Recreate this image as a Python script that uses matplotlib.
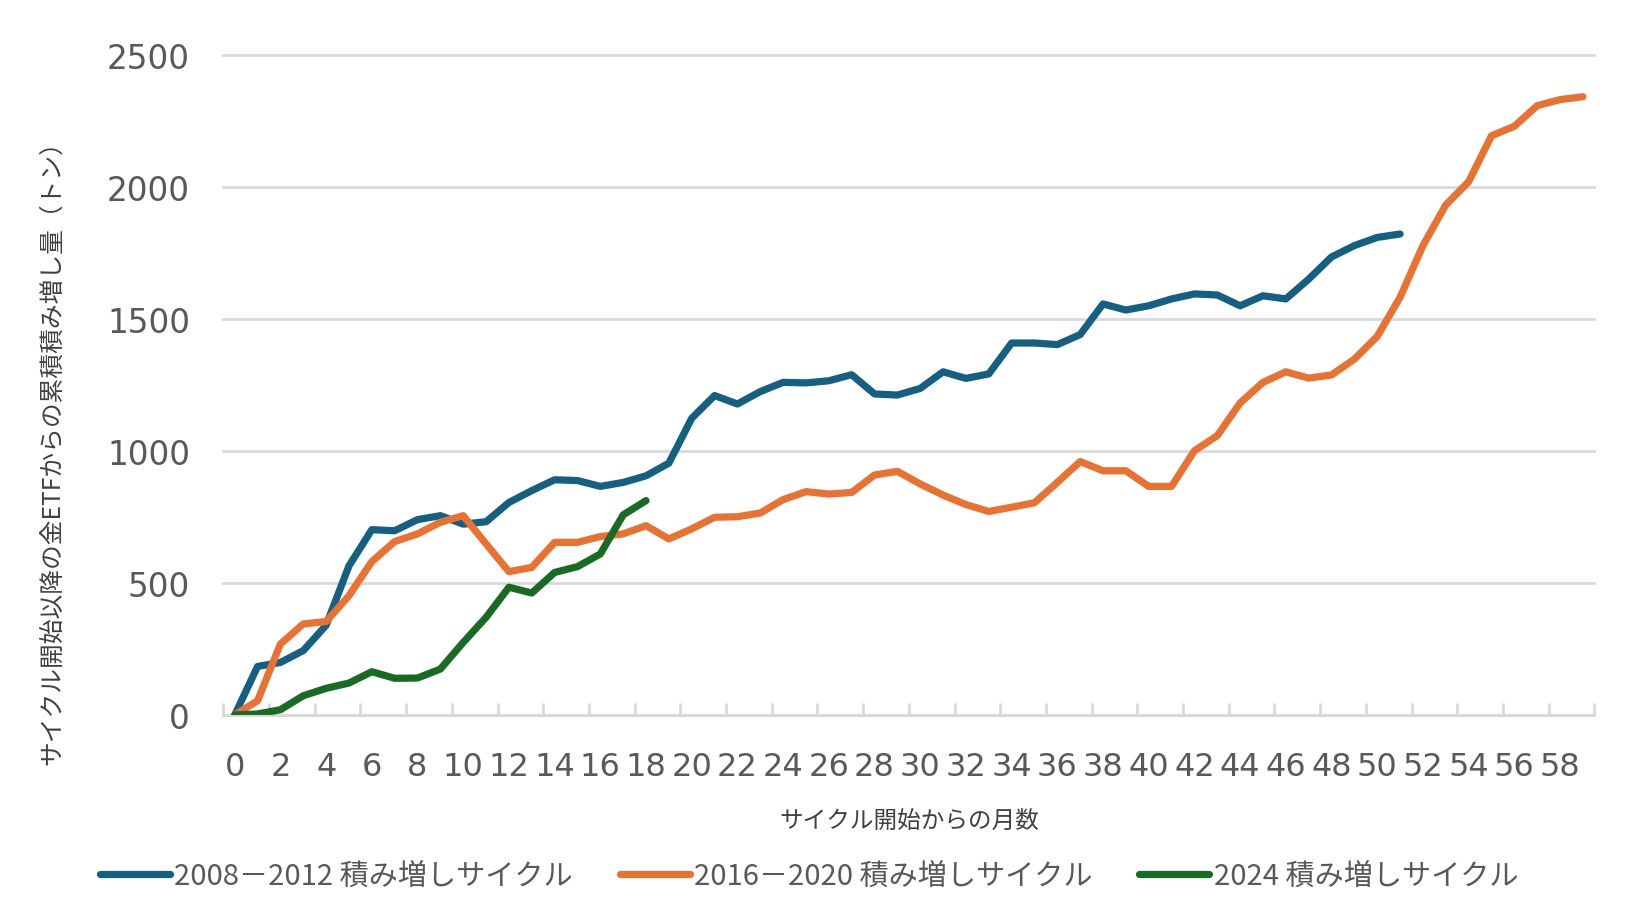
import matplotlib
matplotlib.use("Agg")
import matplotlib.pyplot as plt
import numpy as np

plt.rcParams['font.family'] = ['Noto Sans CJK JP', 'DejaVu Sans']

# ---- data (cumulative gold ETF additions, tonnes) ----
months = list(range(60))
month_tick_labels = [str(m) for m in months[::2]]

cycle_2008 = [0, 184, 199, 244, 340, 565, 702, 698, 740, 755,
              723, 732, 805, 850, 891, 888, 866, 881, 906, 954,
              1124, 1210, 1178, 1225, 1260, 1258, 1266, 1289, 1216, 1212,
              1237, 1300, 1275, 1292, 1409, 1409, 1403, 1441, 1557, 1534,
              1550, 1576, 1595, 1591, 1550, 1588, 1576, 1651, 1735, 1778,
              1809, 1822]
cycle_2016 = [0, 54, 269, 345, 354, 452, 581, 657, 686, 730,
              755, 648, 543, 559, 654, 654, 676, 686, 717, 667,
              705, 749, 751, 765, 816, 846, 837, 843, 909, 923,
              875, 833, 797, 771, 787, 804, 881, 960, 925, 925,
              866, 866, 1001, 1058, 1182, 1260, 1300, 1276, 1288, 1348,
              1434, 1582, 1778, 1932, 2020, 2194, 2230, 2308, 2331, 2342]
cycle_2024 = [0, 4, 20, 73, 101, 121, 164, 139, 140, 174,
              275, 370, 484, 462, 540, 562, 610, 758, 812]

series_labels = ["2008－2012 積み増しサイクル",
                 "2016－2020 積み増しサイクル",
                 "2024 積み増しサイクル"]
y_ticks = [0, 500, 1000, 1500, 2000, 2500]
y_label = "サイクル開始以降の金ETFからの累積積み増し量（トン）"
x_label = "サイクル開始からの月数"

colors = ["#156082", "#E97132", "#196B24"]
grid_c = "#d9d9d9"
text_c = "#595959"

fig = plt.figure(figsize=(16.48, 9.12), dpi=100)
ax = fig.add_axes([223.3 / 1648, 1 - 716 / 912, (1594.3 - 223.3) / 1648, (716 - 56) / 912])

handles = []
for data, c, lab in zip([cycle_2008, cycle_2016, cycle_2024], colors, series_labels):
    h, = ax.plot(months[:len(data)], data, color=c, lw=5.2, label=lab,
                 solid_capstyle='round', solid_joinstyle='round', zorder=3)
    handles.append(h)

ax.set_xlim(-0.5, 59.5)
ax.set_ylim(0, 2500)
ax.set_yticks(y_ticks)
ax.set_yticklabels([str(v) for v in y_ticks], family='DejaVu Sans', fontsize=23.5, color=text_c)
ax.yaxis.grid(True, color=grid_c, lw=2)
for gl in ax.get_ygridlines():
    gl.set_clip_on(False)
ax.set_axisbelow(True)
for s in ['top', 'right', 'left']:
    ax.spines[s].set_visible(False)
ax.spines['bottom'].set_color(grid_c)
ax.spines['bottom'].set_linewidth(2.2)

ax.set_xticks(months[::2])
ax.set_xticklabels(month_tick_labels, family='DejaVu Sans', fontsize=23, color=text_c)
ax.set_xticks(np.arange(-0.5, 60, 2), minor=True)
ax.tick_params(axis='x', which='major', length=0, pad=26)
ax.tick_params(axis='x', which='minor', direction='in', length=9, width=2, color=grid_c)
ax.tick_params(axis='y', length=0, pad=24)

fig.text(52 / 1648, 1 - 447 / 912, y_label, rotation=90, ha='center', va='center',
         fontsize=17.8, color='#404040')
fig.text(909 / 1648, 1 - 822 / 912, x_label, ha='center', va='center',
         fontsize=17, color='#404040')

leg = fig.legend(handles, series_labels, loc='center', bbox_to_anchor=(809 / 1648, 1 - 877 / 912),
                 ncol=3, frameon=False, fontsize=21, handlelength=2.4, handletextpad=0.15,
                 columnspacing=1.6, borderaxespad=0)
for t in leg.get_texts():
    t.set_color(text_c)

fig.savefig("out.png", dpi=100, facecolor='white')
